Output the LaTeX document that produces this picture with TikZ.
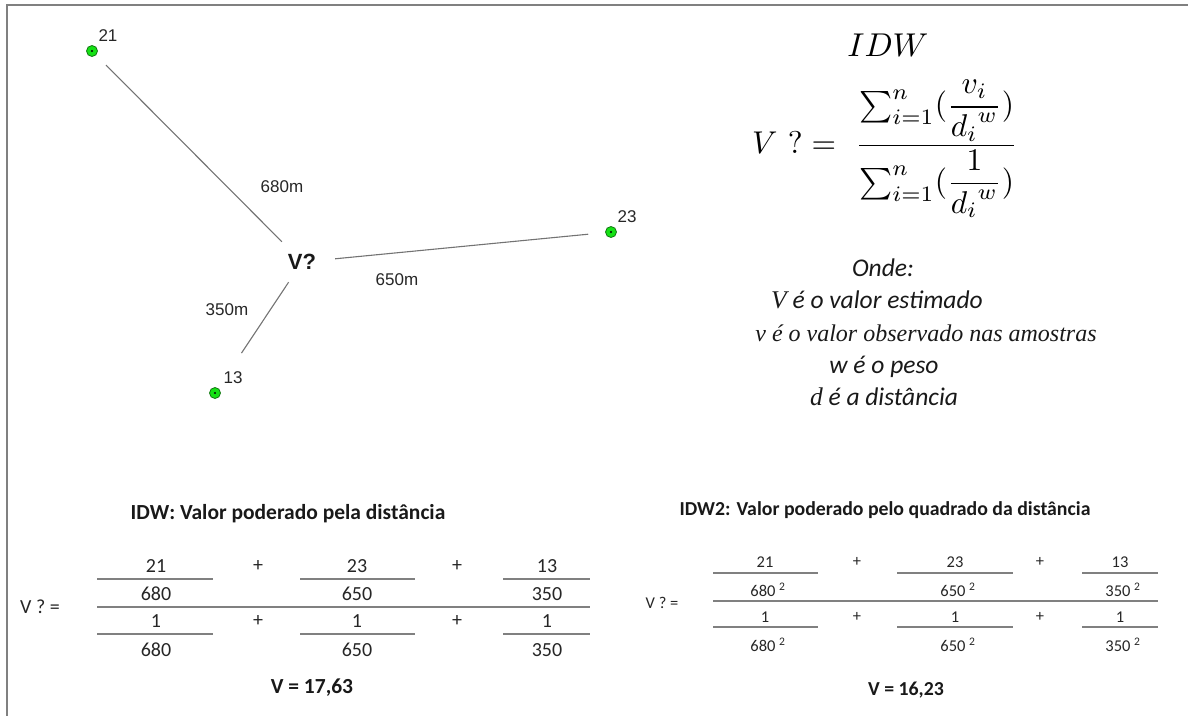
\documentclass[tikz,border=0pt]{standalone}
\usepackage{fontspec}
\usepackage{graphicx}
\usepackage{amsmath}
\newfontfamily\calibri{Carlito}
\newfontfamily\arialf{Liberation Sans}
\newfontfamily\timesf{Liberation Serif}
\tikzset{
  frame/.style={draw=black!50, line width=2pt},
  pt/.style={circle, draw={rgb,255:red,20;green,120;blue,20}, fill={rgb,255:red,20;green,225;blue,20}, line width=0.8pt, minimum size=11pt, inner sep=0pt,
    path picture={\fill[black] (path picture bounding box.center) circle (1.1pt);}},
  lbl/.style={font=\arialf\fontsize{17}{20}\selectfont, text=black!85, inner sep=0pt},
  vq/.style={font=\arialf\bfseries\fontsize{22}{26}\selectfont, text=black!90, minimum width=66pt, minimum height=40pt, inner sep=0pt},
  link/.style={draw=black!55, line width=1.1pt},
  ital/.style={font=\calibri\itshape\fontsize{25.5}{30}\selectfont, text=black!90, inner sep=0pt},
  numL/.style={font=\calibri\fontsize{20}{24}\selectfont, text=black!85, inner sep=0pt},
  numR/.style={font=\calibri\fontsize{16.5}{20}\selectfont, text=black!85, inner sep=0pt},
  titL/.style={font=\calibri\bfseries\fontsize{21.5}{26}\selectfont, text=black!90, inner sep=0pt},
  titR/.style={font=\calibri\bfseries\fontsize{19.8}{24}\selectfont, text=black!90, inner sep=0pt},
  bar/.style={draw=black!50, line width=1.4pt},
}
\begin{document}
\begin{tikzpicture}[x=1pt,y=-1pt]
\useasboundingbox (0,0) rectangle (1188,715);
\draw[frame] (7,716) -- (7,5) -- (1189,5);

% sample points
\node[pt] (p21) at (92,51) {};
\node[pt] (p23) at (611,232) {};
\node[pt] (p13) at (215,393) {};
\node[lbl] (l21) at (108,36) {21};
\node[lbl] (l23) at (627,217) {23};
\node[lbl] (l13) at (233,378) {13};
\node[vq] (v) at (302,262) {V?};
\draw[link, shorten <=14pt] (p21) -- (v);
\draw[link, shorten >=17pt] (v) -- (p23);
\draw[link, shorten >=42pt] (v) -- (p13);
\node[lbl] (d680) at (282,187) {680m};
\node[lbl] (d650) at (397,280) {650m};
\node[lbl] (d350) at (227,310) {350m};

% formula
\node[inner sep=0pt] (idw) at (888,45) {\scalebox{3.3}{$IDW$}};
\node[inner sep=0pt] (form) at (885,149) {\scalebox{3.15}{$V\ ?=\ \dfrac{\textstyle\sum_{i=1}^{n}(\dfrac{v_i}{{d_i}^{w}})}{\textstyle\sum_{i=1}^{n}(\dfrac{1}{{d_i}^{w}})}$}};

% legend
\node[ital] (onde) at (883,268) {Onde:};
\node[ital] (leg1) at (877,300) {{\timesf V} é o valor estimado};
\node[inner sep=0pt, font=\timesf\itshape\fontsize{24}{28}\selectfont, text=black!90] (leg2) at (926,333) {v é o valor observado nas amostras};
\node[ital] (leg3) at (884,367) {w é o peso};
\node[ital] (leg4) at (884,397) {{\timesf d} é a distância};

% left table
\node[titL] (tl) at (288,514) {IDW: Valor poderado pela distância};
\node[numL] (vl) at (40,607) {V ? =};
\foreach \c/\a/\b/\n/\d in {156/97/213/21/680, 357/300/415/23/650, 547/503/590/13/350} {
  \node[numL] at (\c,566) {\n};
  \draw[bar] (\a,579) -- (\b,579);
  \node[numL] at (\c,594) {\d};
  \node[numL] at (\c,621) {1};
  \draw[bar] (\a,634) -- (\b,634);
  \node[numL] at (\c,650) {\d};
}
\draw[bar] (97,607) -- (590,607);
\foreach \x in {258,457} {
  \node[numL] at (\x,566) {+};
  \node[numL] at (\x,621) {+};
}
\node[titL] (rl) at (312,688) {V = 17,63};

% right table
\node[titR] (tr) at (885,510) {IDW2: Valor poderado pelo quadrado da distância};
\node[numR] (vr) at (662,603) {V ? =};
\foreach \c/\a/\b/\n/\d in {765/713/818/21/680, 955/897/1013/23/650, 1120/1082/1158/13/350} {
  \node[numR] at (\c,562) {\n};
  \draw[bar] (\a,573) -- (\b,573);
  \node[numR] at (\c+3,590) {\d\ \textsuperscript{2}};
  \node[numR] at (\c,617) {1};
  \draw[bar] (\a,627) -- (\b,627);
  \node[numR] at (\c+3,645) {\d\ \textsuperscript{2}};
}
\draw[bar] (713,601) -- (1158,601);
\foreach \x in {857,1040} {
  \node[numR] at (\x,562) {+};
  \node[numR] at (\x,617) {+};
}
\node[titR] (rr) at (906,690) {V = 16,23};
\end{tikzpicture}
\end{document}
